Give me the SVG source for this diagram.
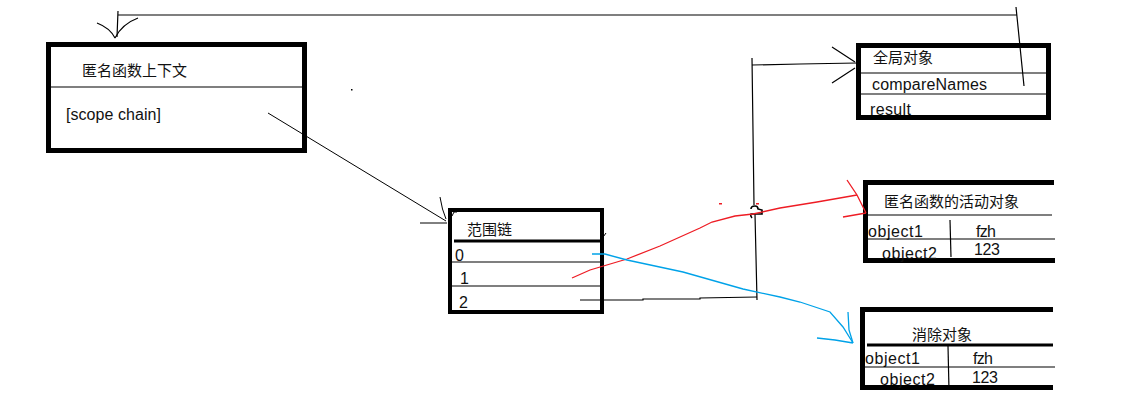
<svg xmlns="http://www.w3.org/2000/svg" width="1121" height="409" viewBox="0 0 1121 409">
<style>
.t{font-family:"Liberation Sans","Noto Sans CJK SC",sans-serif;font-size:15px;fill:#111}
.l{font-family:"Liberation Sans","Noto Sans CJK SC",sans-serif;font-size:16px;fill:#111}
.box{fill:none;stroke:#000;stroke-width:5}
.ln{stroke:#000;stroke-width:1.2;fill:none}
.thin{stroke:#000;stroke-width:1;fill:none}
.red{stroke:#ee1c24;stroke-width:1.3;fill:none}
.blue{stroke:#00a2e8;stroke-width:1.3;fill:none}
</style>
<rect width="1121" height="409" fill="#fff"/>
<g id="anon-context">
<rect class="box" x="48.5" y="44.5" width="256" height="106"/>
<line class="ln" x1="51" y1="87" x2="302" y2="87"/>
<text class="t" x="82" y="76">匿名函数上下文</text>
<text class="l" x="66" y="120" textLength="95">[scope chain]</text>
</g>
<g id="scope-chain">
<rect x="450" y="210" width="152" height="102" fill="none" stroke="#000" stroke-width="4"/>
<text class="t" x="467" y="235">范围链</text>
<line x1="454" y1="241" x2="604" y2="241" stroke="#000" stroke-width="3"/>
<line class="ln" x1="452" y1="262" x2="602" y2="262"/>
<line class="ln" x1="452" y1="286" x2="602" y2="286"/>
<text class="l" x="455" y="261">0</text>
<text class="l" x="460" y="284">1</text>
<text class="l" x="459" y="308">2</text>
<path class="thin" d="M452 216 L454 212 L457 212"/>
<line class="thin" x1="601" y1="240" x2="606" y2="233"/>
</g>
<g id="global-object">
<rect class="box" x="858.5" y="45.5" width="190" height="72"/>
<text class="t" x="873" y="63">全局对象</text>
<line class="ln" x1="861" y1="73" x2="1047" y2="73"/>
<text class="l" x="872" y="90" textLength="115">compareNames</text>
<line class="ln" x1="861" y1="94" x2="1047" y2="94"/>
<text class="l" x="870" y="115" textLength="41">result</text>
</g>
<g id="activation-object">
<path d="M1054 182.5 H865.5 V260.5 H1055" fill="none" stroke="#000" stroke-width="5"/>
<text class="t" x="884" y="207">匿名函数的活动对象</text>
<line class="ln" x1="868" y1="215" x2="1052" y2="215"/>
<text class="l" x="868" y="237" textLength="55">object1</text>
<text class="l" x="976" y="237" textLength="20">fzh</text>
<line class="ln" x1="950" y1="220" x2="951" y2="257"/>
<line class="ln" x1="868" y1="239" x2="1055" y2="239"/>
<text class="l" x="882" y="259" textLength="55">object2</text>
<text class="l" x="974" y="255" textLength="26">123</text>
</g>
<g id="eliminated-object">
<path d="M1053 309.5 H862.5 V387.5 H1053" fill="none" stroke="#000" stroke-width="5"/>
<text class="t" x="912" y="340">消除对象</text>
<line x1="867" y1="345" x2="1053" y2="345" stroke="#000" stroke-width="3"/>
<text class="l" x="865" y="364" textLength="55">object1</text>
<text class="l" x="973" y="364" textLength="20">fzh</text>
<line class="ln" x1="948" y1="346" x2="949" y2="390"/>
<line class="ln" x1="865" y1="367" x2="1055" y2="367"/>
<text class="l" x="880" y="385" textLength="55">object2</text>
<text class="l" x="972" y="383" textLength="26">123</text>
</g>
<g id="connectors">
<path class="ln" d="M1024 86 L1016 7 M1017 15 L118 15 M118 11 L117 37"/>
<path class="ln" d="M97 23 Q110 28 115 38 M138 18 Q122 24 115 38"/>
<line class="thin" x1="268" y1="113" x2="446" y2="221"/>
<path class="thin" d="M440 197 Q442 210 446 219 M420 223 L447 223"/>
<path class="ln" d="M580 300 L643 300 L643 299 L700 299 L700 298 L757 297"/>
<path class="ln" d="M752 58 L754 205 M755 214 L757 300"/>
<path class="ln" d="M752 65 L800 64 L857 63"/>
<path class="ln" d="M832 47 L855 62 M832 83 L855 68"/>
<path d="M751 209 Q751 206 755 206 Q758 206 758 209 L762 210 L762 214 L751 214 Q750 216 752 218" fill="none" stroke="#000" stroke-width="1.6"/>
<path class="red" d="M572 278 L590 270 L627 259 L660 246 L700 228 L712 222 L735 216 L753 214 L780 208 L817 202 L857 195"/>
<path class="red" d="M847 180 L857 195 L866 213 M843 217 L866 213"/>
<rect x="719" y="203" width="3" height="1.5" fill="#ee1c24"/>
<rect x="756" y="203" width="3" height="1.5" fill="#ee1c24"/>
<path class="blue" d="M592 254 L605 254 L627 260 L683 272 L743 289 L780 297 L800 302 L830 312 L843 327 L853 343"/>
<path class="blue" d="M848 312 L849 330 L853 343 M817 338 L835 340 L853 343"/>
</g>
<rect x="351" y="89" width="1.5" height="1.5" fill="#000"/>
</svg>
